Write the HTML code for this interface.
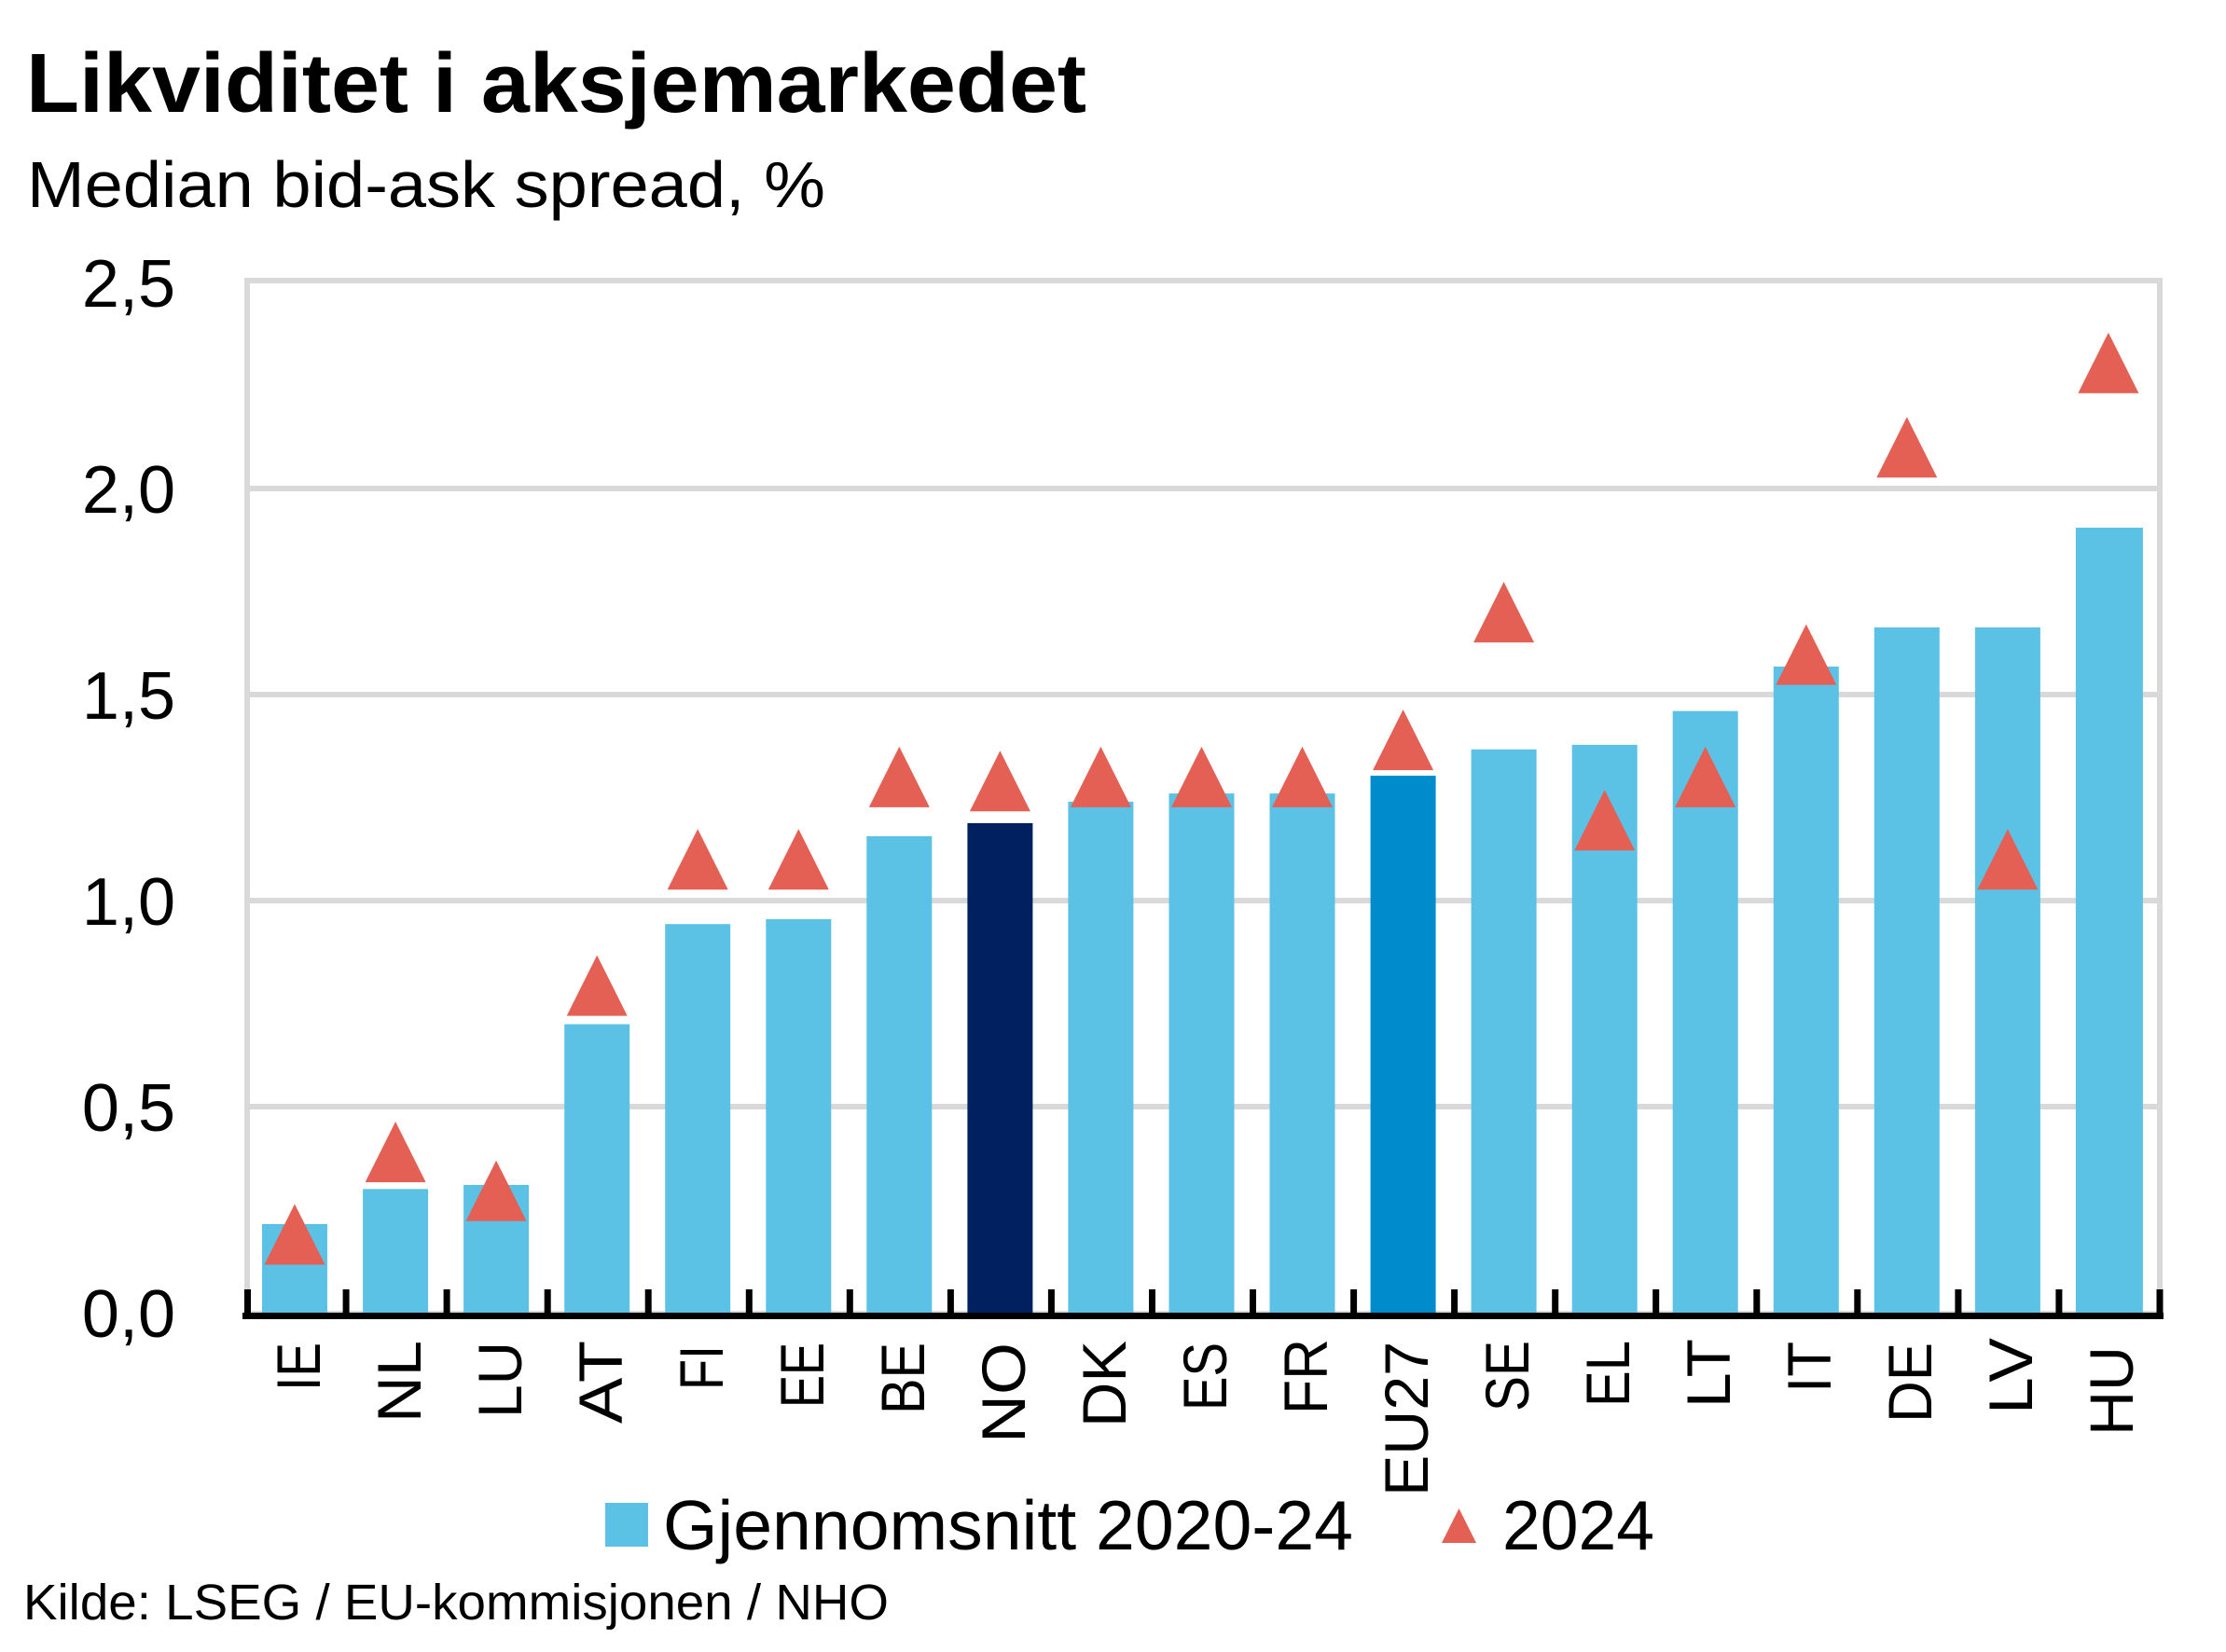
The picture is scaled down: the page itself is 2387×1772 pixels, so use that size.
<!DOCTYPE html>
<html>
<head>
<meta charset="utf-8">
<style>
html,body{margin:0;padding:0;background:#fff;}
svg{display:block;}
text{font-family:"Liberation Sans",Arial,sans-serif;fill:#000;}
</style>
</head>
<body>
<svg width="2387" height="1772" viewBox="0 0 2387 1772" xmlns="http://www.w3.org/2000/svg">
<rect x="0" y="0" width="2387" height="1772" fill="#fff"/>
<!-- Title & subtitle -->
<text x="28" y="120" font-size="90" font-weight="bold" textLength="1137" lengthAdjust="spacingAndGlyphs">Likviditet i aksjemarkedet</text>
<text x="29" y="222" font-size="70" textLength="856" lengthAdjust="spacingAndGlyphs">Median bid-ask spread, %</text>

<!-- gridlines -->
<g stroke="#d9d9d9" stroke-width="6">
<line x1="263" y1="524" x2="2316" y2="524"/>
<line x1="263" y1="745" x2="2316" y2="745"/>
<line x1="263" y1="966" x2="2316" y2="966"/>
<line x1="263" y1="1187" x2="2316" y2="1187"/>
</g>
<!-- frame -->
<rect x="265" y="301" width="2051" height="1108" fill="none" stroke="#d9d9d9" stroke-width="6"/>

<!-- y labels -->
<g font-size="72" text-anchor="end">
<text x="188" y="329">2,5</text>
<text x="188" y="550">2,0</text>
<text x="188" y="771">1,5</text>
<text x="188" y="992">1,0</text>
<text x="188" y="1213">0,5</text>
<text x="188" y="1434">0,0</text>
</g>

<!-- bars -->
<g>
<rect x="281.0" y="1313.0" width="70" height="95.0" fill="#5bc2e6"/>
<rect x="389.1" y="1275.4" width="70" height="132.6" fill="#5bc2e6"/>
<rect x="497.1" y="1271.0" width="70" height="137.0" fill="#5bc2e6"/>
<rect x="605.2" y="1098.6" width="70" height="309.4" fill="#5bc2e6"/>
<rect x="713.2" y="991.2" width="70" height="416.8" fill="#5bc2e6"/>
<rect x="821.3" y="985.9" width="70" height="422.1" fill="#5bc2e6"/>
<rect x="929.3" y="897.0" width="70" height="511.0" fill="#5bc2e6"/>
<rect x="1037.4" y="882.9" width="70" height="525.1" fill="#00205f"/>
<rect x="1145.4" y="859.9" width="70" height="548.1" fill="#5bc2e6"/>
<rect x="1253.5" y="851.1" width="70" height="556.9" fill="#5bc2e6"/>
<rect x="1361.5" y="851.1" width="70" height="556.9" fill="#5bc2e6"/>
<rect x="1469.6" y="832.1" width="70" height="575.9" fill="#008bcd"/>
<rect x="1577.6" y="803.8" width="70" height="604.2" fill="#5bc2e6"/>
<rect x="1685.7" y="798.9" width="70" height="609.1" fill="#5bc2e6"/>
<rect x="1793.7" y="762.7" width="70" height="645.3" fill="#5bc2e6"/>
<rect x="1901.8" y="715.0" width="70" height="693.0" fill="#5bc2e6"/>
<rect x="2009.8" y="673.0" width="70" height="735.0" fill="#5bc2e6"/>
<rect x="2117.9" y="673.0" width="70" height="735.0" fill="#5bc2e6"/>
<rect x="2225.9" y="566.0" width="72" height="842.0" fill="#5bc2e6"/>
</g>

<!-- triangles -->
<g fill="#e45f54">
<polygon points="283.5,1356.5 316,1291.5 348.5,1356.5"/>
<polygon points="391.6,1268.1 424.1,1203.1 456.6,1268.1"/>
<polygon points="499.6,1309.7 532.1,1244.7 564.6,1309.7"/>
<polygon points="607.7,1089.6 640.2,1024.6 672.7,1089.6"/>
<polygon points="715.7,954.3 748.2,889.3 780.7,954.3"/>
<polygon points="823.8,954.3 856.3,889.3 888.8,954.3"/>
<polygon points="931.8,865.9 964.3,800.9 996.8,865.9"/>
<polygon points="1039.9,870.3 1072.4,805.3 1104.9,870.3"/>
<polygon points="1147.9,865.9 1180.4,800.9 1212.9,865.9"/>
<polygon points="1256.0,865.9 1288.5,800.9 1321.0,865.9"/>
<polygon points="1364.0,865.9 1396.5,800.9 1429.0,865.9"/>
<polygon points="1472.1,826.1 1504.6,761.1 1537.1,826.1"/>
<polygon points="1580.1,689.1 1612.6,624.1 1645.1,689.1"/>
<polygon points="1688.2,912.3 1720.7,847.3 1753.2,912.3"/>
<polygon points="1796.2,865.9 1828.7,800.9 1861.2,865.9"/>
<polygon points="1904.3,734.6 1936.8,669.6 1969.3,734.6"/>
<polygon points="2012.3,512.3 2044.8,447.3 2077.3,512.3"/>
<polygon points="2120.4,954.3 2152.9,889.3 2185.4,954.3"/>
<polygon points="2228.4,421.7 2260.9,356.7 2293.4,421.7"/>
</g>

<!-- x axis line & ticks -->
<g fill="#000">
<rect x="260" y="1408" width="2060" height="7"/>
<rect x="262" y="1383" width="7" height="30"/>
<rect x="367.6" y="1383" width="7" height="30"/>
<rect x="475.6" y="1383" width="7" height="30"/>
<rect x="583.7" y="1383" width="7" height="30"/>
<rect x="691.7" y="1383" width="7" height="30"/>
<rect x="799.8" y="1383" width="7" height="30"/>
<rect x="907.8" y="1383" width="7" height="30"/>
<rect x="1015.9" y="1383" width="7" height="30"/>
<rect x="1123.9" y="1383" width="7" height="30"/>
<rect x="1232.0" y="1383" width="7" height="30"/>
<rect x="1340.0" y="1383" width="7" height="30"/>
<rect x="1448.1" y="1383" width="7" height="30"/>
<rect x="1556.1" y="1383" width="7" height="30"/>
<rect x="1664.2" y="1383" width="7" height="30"/>
<rect x="1772.2" y="1383" width="7" height="30"/>
<rect x="1880.3" y="1383" width="7" height="30"/>
<rect x="1988.3" y="1383" width="7" height="30"/>
<rect x="2096.4" y="1383" width="7" height="30"/>
<rect x="2204.4" y="1383" width="7" height="30"/>
<rect x="2312.5" y="1383" width="7" height="30"/>
</g>

<!-- x labels (rotated) -->
<g font-size="66" text-anchor="end">
<text transform="translate(343,1440) rotate(-90)" textLength="52" lengthAdjust="spacingAndGlyphs">IE</text>
<text transform="translate(451,1438) rotate(-90)" textLength="88" lengthAdjust="spacingAndGlyphs">NL</text>
<text transform="translate(559,1439) rotate(-90)" textLength="82" lengthAdjust="spacingAndGlyphs">LU</text>
<text transform="translate(667,1438) rotate(-90)" textLength="89" lengthAdjust="spacingAndGlyphs">AT</text>
<text transform="translate(775,1443) rotate(-90)" textLength="48" lengthAdjust="spacingAndGlyphs">FI</text>
<text transform="translate(883,1440) rotate(-90)" textLength="70" lengthAdjust="spacingAndGlyphs">EE</text>
<text transform="translate(991,1440) rotate(-90)" textLength="77" lengthAdjust="spacingAndGlyphs">BE</text>
<text transform="translate(1099,1440) rotate(-90)" textLength="108" lengthAdjust="spacingAndGlyphs">NO</text>
<text transform="translate(1207,1438) rotate(-90)" textLength="93" lengthAdjust="spacingAndGlyphs">DK</text>
<text transform="translate(1315,1440) rotate(-90)" textLength="73" lengthAdjust="spacingAndGlyphs">ES</text>
<text transform="translate(1423,1436) rotate(-90)" textLength="81" lengthAdjust="spacingAndGlyphs">FR</text>
<text transform="translate(1531,1439) rotate(-90)" textLength="166" lengthAdjust="spacingAndGlyphs">EU27</text>
<text transform="translate(1639,1438) rotate(-90)" textLength="76" lengthAdjust="spacingAndGlyphs">SE</text>
<text transform="translate(1747,1438) rotate(-90)" textLength="71" lengthAdjust="spacingAndGlyphs">EL</text>
<text transform="translate(1855,1436) rotate(-90)" textLength="74" lengthAdjust="spacingAndGlyphs">LT</text>
<text transform="translate(1963,1439) rotate(-90)" textLength="55" lengthAdjust="spacingAndGlyphs">IT</text>
<text transform="translate(2071,1440) rotate(-90)" textLength="86" lengthAdjust="spacingAndGlyphs">DE</text>
<text transform="translate(2179,1435) rotate(-90)" textLength="82" lengthAdjust="spacingAndGlyphs">LV</text>
<text transform="translate(2287,1444) rotate(-90)" textLength="96" lengthAdjust="spacingAndGlyphs">HU</text>
</g>

<!-- legend -->
<rect x="649" y="1612" width="46" height="47" fill="#5bc2e6"/>
<text x="711" y="1662" font-size="75" textLength="740" lengthAdjust="spacingAndGlyphs">Gjennomsnitt 2020-24</text>
<polygon points="1546,1655 1564.5,1618 1583,1655" fill="#e45f54"/>
<text x="1611" y="1662" font-size="75" textLength="163" lengthAdjust="spacingAndGlyphs">2024</text>

<!-- source -->
<text x="25" y="1737" font-size="54" textLength="928" lengthAdjust="spacingAndGlyphs">Kilde: LSEG / EU-kommisjonen / NHO</text>
</svg>
</body>
</html>
